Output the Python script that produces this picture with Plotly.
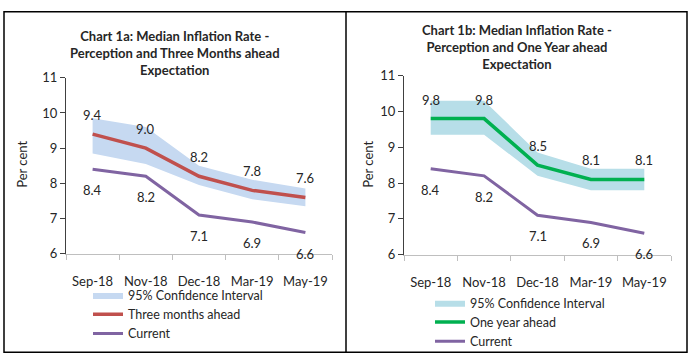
import plotly.graph_objects as go

W, H = 693, 364

months = ["Sep-18", "Nov-18", "Dec-18", "Mar-19", "May-19"]

# Chart 1a
three_month = [9.4, 9.0, 8.2, 7.8, 7.6]
current = [8.4, 8.2, 7.1, 6.9, 6.6]
ci_3m_low = [8.85, 8.55, 7.95, 7.55, 7.35]
ci_3m_high = [9.85, 9.6, 8.5, 8.1, 7.85]

# Chart 1b
one_year = [9.8, 9.8, 8.5, 8.1, 8.1]
ci_1y_low = [9.35, 9.35, 8.2, 7.8, 7.8]
ci_1y_high = [10.3, 10.3, 8.85, 8.4, 8.4]

FONT = "Lato, Carlito, 'Liberation Sans Narrow', sans-serif"
RED = "#C0504D"
PURPLE = "#8064A2"
GREEN = "#00B050"
BAND_L = "#C6D9F1"
BAND_R = "#B7DEE8"
TXT = "#262626"

def px_x(p):
    return p / W

def px_y(p):
    return 1 - p / H

fig = go.Figure()

# ---- left chart ----
fig.add_trace(go.Scatter(x=months, y=ci_3m_low, mode="lines", line=dict(width=0, color=BAND_L),
                         showlegend=False, hoverinfo="skip", xaxis="x", yaxis="y", legend="legend"))
fig.add_trace(go.Scatter(x=months, y=ci_3m_high, mode="lines", line=dict(width=0, color=BAND_L),
                         fill="tonexty", fillcolor=BAND_L, name="95% Confidence Interval",
                         xaxis="x", yaxis="y", legend="legend"))
fig.add_trace(go.Scatter(x=months, y=three_month, mode="lines", line=dict(width=3.5, color=RED),
                         name="Three months ahead", xaxis="x", yaxis="y", legend="legend"))
fig.add_trace(go.Scatter(x=months, y=current, mode="lines", line=dict(width=3, color=PURPLE),
                         name="Current", xaxis="x", yaxis="y", legend="legend"))

# ---- right chart ----
fig.add_trace(go.Scatter(x=months, y=ci_1y_low, mode="lines", line=dict(width=0, color=BAND_R),
                         showlegend=False, hoverinfo="skip", xaxis="x2", yaxis="y2", legend="legend2"))
fig.add_trace(go.Scatter(x=months, y=ci_1y_high, mode="lines", line=dict(width=0, color=BAND_R),
                         fill="tonexty", fillcolor=BAND_R, name="95% Confidence Interval",
                         xaxis="x2", yaxis="y2", legend="legend2"))
fig.add_trace(go.Scatter(x=months, y=one_year, mode="lines", line=dict(width=3.5, color=GREEN),
                         name="One year ahead", xaxis="x2", yaxis="y2", legend="legend2"))
fig.add_trace(go.Scatter(x=months, y=current, mode="lines", line=dict(width=3, color=PURPLE),
                         name="Current", xaxis="x2", yaxis="y2", legend="legend2"))

annotations = []
def labels(xref, yref, vals, shift):
    for m, v in zip(months, vals):
        annotations.append(dict(x=m, y=v, xref=xref, yref=yref, text=f"{v:.1f}", showarrow=False,
                                xanchor="center", yanchor="middle",
                                yshift=shift, font=dict(family=FONT, size=13, color=TXT)))

labels("x", "y", three_month, 19)
labels("x", "y", current, -21)
labels("x2", "y2", one_year, 19)
labels("x2", "y2", current, -21)

title_font = dict(family=FONT, size=13, color=TXT)
annotations.append(dict(x=px_x(175), y=px_y(47), xref="paper", yref="paper", showarrow=False,
                        xanchor="center", yanchor="middle",
                        text="<b>Chart 1a: Median Inflation Rate -<br>Perception and Three Months ahead<br>Expectation</b>",
                        font=title_font, align="center"))
annotations.append(dict(x=px_x(517), y=px_y(41), xref="paper", yref="paper", showarrow=False,
                        xanchor="center", yanchor="middle",
                        text="<b>Chart 1b: Median Inflation Rate -<br>Perception and One Year ahead<br>Expectation</b>",
                        font=title_font, align="center"))
annotations.append(dict(x=px_x(22), y=px_y(164), xref="paper", yref="paper", showarrow=False,
                        xanchor="center", yanchor="middle",
                        text="Per cent", textangle=-90, font=dict(family=FONT, size=13, color=TXT)))
annotations.append(dict(x=px_x(368), y=px_y(164), xref="paper", yref="paper", showarrow=False,
                        xanchor="center", yanchor="middle",
                        text="Per cent", textangle=-90, font=dict(family=FONT, size=13, color=TXT)))

tick_font = dict(family=FONT, size=13, color=TXT)
xaxis_common = dict(type="category", range=[-0.5, 4.5], showgrid=False, zeroline=False,
                    showline=True, linecolor="#BFBFBF", linewidth=1, ticks="outside",
                    tickson="boundaries", ticklen=5, tickcolor="#BFBFBF", tickfont=tick_font,
                    tickangle=0, ticklabelstandoff=16, fixedrange=True)
yaxis_common = dict(range=[6, 11], dtick=1, showgrid=False, zeroline=False, showline=True,
                    linecolor="#404040", linewidth=1, ticks="outside", ticklen=5,
                    tickcolor="#404040", tickfont=dict(family=FONT, size=13, color=TXT),
                    fixedrange=True)

legend_font = dict(family=FONT, size=12.5, color=TXT)
fig.update_layout(
    width=W, height=H, margin=dict(l=0, r=0, t=0, b=0),
    paper_bgcolor="white", plot_bgcolor="white",
    xaxis=dict(domain=[px_x(66), px_x(332)], anchor="y", **xaxis_common),
    yaxis=dict(domain=[px_y(257), px_y(73)], anchor="x", **yaxis_common),
    xaxis2=dict(domain=[px_x(404), px_x(671)], anchor="y2", **xaxis_common),
    yaxis2=dict(domain=[px_y(258), px_y(70.7)], anchor="x2", **yaxis_common),
    legend=dict(x=px_x(88), y=px_y(285), xanchor="left", yanchor="top", bgcolor="rgba(0,0,0,0)",
                font=legend_font, itemwidth=30, tracegroupgap=0, traceorder="normal"),
    legend2=dict(x=px_x(430), y=px_y(293), xanchor="left", yanchor="top", bgcolor="rgba(0,0,0,0)",
                 font=legend_font, itemwidth=30, tracegroupgap=0, traceorder="normal"),
    annotations=annotations,
    shapes=[
        dict(type="rect", xref="paper", yref="paper", x0=px_x(4), x1=px_x(687), y0=px_y(360), y1=px_y(4),
             line=dict(color="black", width=1.5)),
        dict(type="line", xref="paper", yref="paper", x0=px_x(346), x1=px_x(346), y0=px_y(360), y1=px_y(4),
             line=dict(color="black", width=1.5)),
    ],
)

fig.write_html("out.html", config={"displayModeBar": False},
               post_script="document.body.style.margin='0';document.body.style.overflow='hidden';")
